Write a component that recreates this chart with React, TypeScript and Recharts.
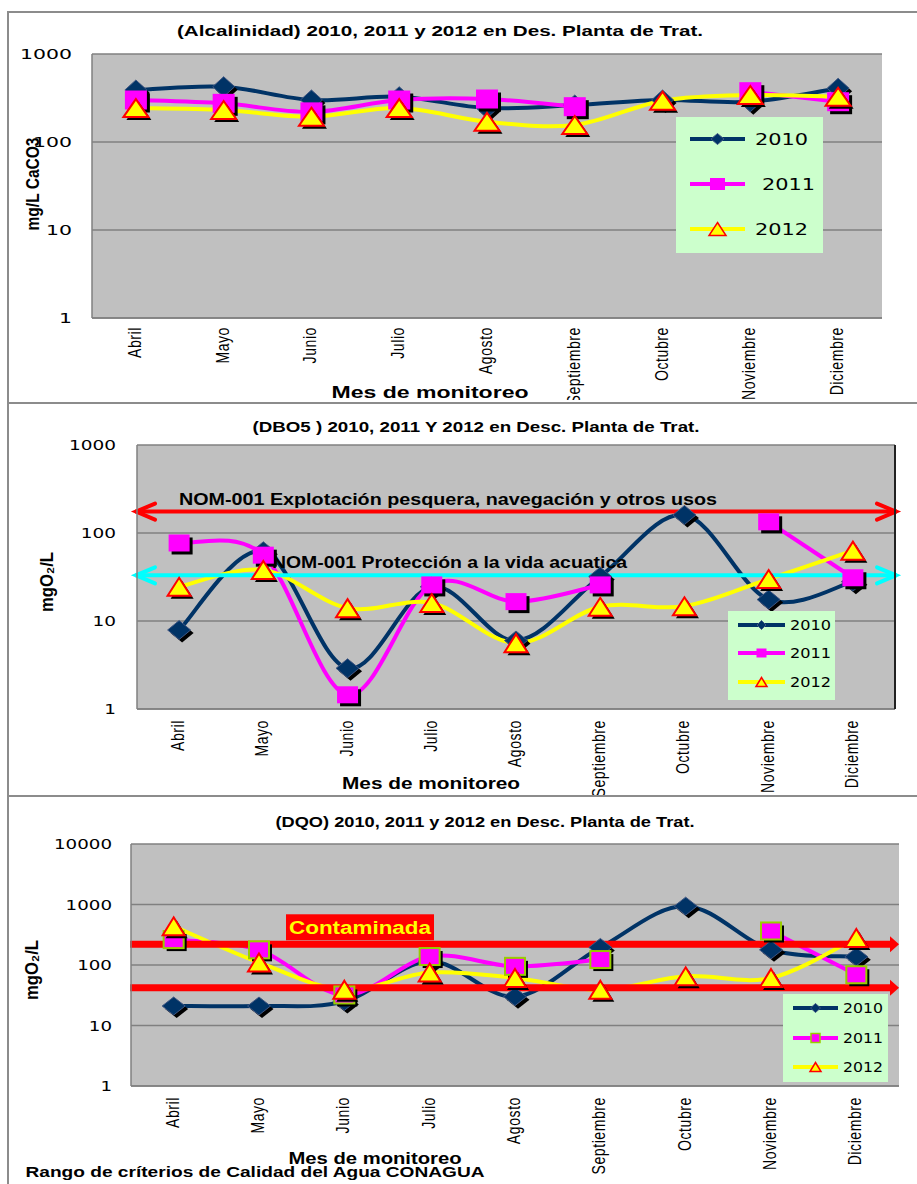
import React from "react";
import { CartesianGrid, Legend, Line, LineChart, ReferenceLine, XAxis, YAxis } from "recharts";

const meses = ["Abril", "Mayo", "Junio", "Julio", "Agosto", "Septiembre", "Octubre", "Noviembre", "Diciembre"];

// Alcalinidad, mg/L CaCO3
const alc2010 = [390, 425, 300, 327, 243, 263, 300, 287, 408];
const alc2011 = [300, 275, 220, 300, 308, 252, null, 373, 287];
const alc2012 = [243, 231, 194, 243, 170, 156, 295, 342, 327];
const alcTicks = [1, 10, 100, 1000];

// DBO5, mgO2/L
const dbo2010 = [7.9, 62, 2.9, 24.5, 6, 32, 160, 17.5, 28];
const dbo2011 = [77, 56, 1.45, 25.7, 16.6, 25.7, null, 134, 31];
const dbo2012 = [24.5, 38, 14, 16, 5.6, 14.5, 14.7, 30, 63];
const dboTicks = [1, 10, 100, 1000];
const nomPesquera = 175;
const nomVidaAcuatica = 33;

// DQO, mgO2/L
const dqo2010 = [21, 21, 25, 115, 30, 195, 940, 178, 137];
const dqo2011 = [263, 178, 32, 138, 95, 123, null, 365, 69];
const dqo2012 = [436, 110, 39, 75, 61, 39, 65, 61, 280];
const dqoTicks = [1, 10, 100, 1000, 10000];
const dqoAlto = 220;
const dqoBajo = 42;

const NAVY = "#003366";
const MAGENTA = "#FF00FF";
const YELLOW = "#FFFF00";
const RED = "#FF0000";
const CYAN = "#00FFFF";
const GRID = "#808080";
const FRAME = "2px solid #8c8c8c";

const toRows = (a: any[], b: any[], c: any[]) =>
  meses.map((mes, i) => ({ mes, y2010: a[i], y2011: b[i], y2012: c[i] }));

// excel-like smoothed line (catmull-rom as bezier)
function smoothCurve(context: any) {
  let pts: number[][] = [];
  return {
    areaStart() {},
    areaEnd() {},
    lineStart() {
      pts = [];
    },
    point(x: number, y: number) {
      pts.push([+x, +y]);
    },
    lineEnd() {
      if (!pts.length) return;
      context.moveTo(pts[0][0], pts[0][1]);
      if (pts.length === 1) context.lineTo(pts[0][0], pts[0][1]);
      for (let i = 0; i < pts.length - 1; i++) {
        const p0 = pts[i - 1] || pts[i];
        const p1 = pts[i];
        const p2 = pts[i + 1];
        const p3 = pts[i + 2] || p2;
        context.bezierCurveTo(
          p1[0] + (p2[0] - p0[0]) / 6,
          p1[1] + (p2[1] - p0[1]) / 6,
          p2[0] - (p3[0] - p1[0]) / 6,
          p2[1] - (p3[1] - p1[1]) / 6,
          p2[0],
          p2[1]
        );
      }
    },
  };
}

function shape(kind: string, cx: number, cy: number, w: number, h: number, fill: string, stroke: string, sw: number) {
  if (kind === "diamond")
    return (
      <polygon
        points={`${cx},${cy - h / 2} ${cx + w / 2},${cy} ${cx},${cy + h / 2} ${cx - w / 2},${cy}`}
        fill={fill}
        stroke={stroke}
        strokeWidth={sw}
      />
    );
  if (kind === "square")
    return <rect x={cx - w / 2} y={cy - h / 2} width={w} height={h} fill={fill} stroke={stroke} strokeWidth={sw} />;
  return (
    <polygon
      points={`${cx},${cy - h / 2} ${cx + w / 2},${cy + h / 2} ${cx - w / 2},${cy + h / 2}`}
      fill={fill}
      stroke={stroke}
      strokeWidth={sw}
      strokeLinejoin="miter"
    />
  );
}

const series = [
  { key: "y2010", name: "2010", color: NAVY, kind: "diamond", fill: NAVY, stroke: "#3f5683", sw: 1 },
  { key: "y2011", name: "2011", color: MAGENTA, kind: "square", fill: MAGENTA, stroke: MAGENTA, sw: 0 },
  { key: "y2012", name: "2012", color: YELLOW, kind: "triangle", fill: YELLOW, stroke: RED, sw: 2 },
];

const dotFor = (s: any, w: number, h: number, stroke: string, sw: number) => (p: any) => {
  if (p.value == null || p.cx == null || p.cy == null) return <g key={`e${p.index}`} />;
  return (
    <g key={`d${p.index}`}>
      {shape(s.kind, p.cx + 3, p.cy + 3, w, h, "#000", "none", 0)}
      {shape(s.kind, p.cx, p.cy, w, h, s.fill, stroke, sw)}
    </g>
  );
};

function legendFor(box: any) {
  return () => (
    <svg width={box.w} height={box.h} style={{ display: "block" }}>
      <rect width={box.w} height={box.h} fill="#CCFFCC" />
      {series.map((s, i) => {
        const y = box.rows[i];
        const m = box.marks[i];
        const stroke = s.kind === "square" && box.sqStroke ? box.sqStroke : s.stroke;
        const sw = s.kind === "square" && box.sqStroke ? 1.5 : s.kind === "triangle" ? 1.5 : s.sw;
        return (
          <g key={s.key}>
            <line x1={box.lx1} y1={y} x2={box.lx2} y2={y} stroke={s.color} strokeWidth={4} />
            {shape(s.kind, (box.lx1 + box.lx2) / 2, y, m[0], m[1], s.fill, stroke, sw)}
            <text
              x={box.tx + (i === 1 ? box.shift1 : 0)}
              y={y}
              dominantBaseline="central"
              fontFamily="DejaVu Sans"
              fontSize={box.fs}
              textLength={box.tl}
              lengthAdjust="spacingAndGlyphs"
            >
              {s.name}
            </text>
          </g>
        );
      })}
    </svg>
  );
}

const chevronLine = (color: string, label: string, dx: number, dy: number, len: number) => (p: any) => {
  const a = p.x1 - 2;
  const b = p.x2 + 2;
  const y = p.y1;
  return (
    <g>
      <line x1={a} y1={y} x2={b} y2={y} stroke={color} strokeWidth={4} />
      <polyline points={`${a + 20},${y - 8} ${a + 1},${y} ${a + 20},${y + 8}`} fill="none" stroke={color} strokeWidth={4} strokeLinecap="round" />
      <polyline points={`${b - 20},${y - 8} ${b - 1},${y} ${b - 20},${y + 8}`} fill="none" stroke={color} strokeWidth={4} strokeLinecap="round" />
      <text
        x={p.x1 + dx}
        y={y - dy}
        dominantBaseline="central"
        fontFamily="Liberation Sans"
        fontWeight="bold"
        fontSize={16}
        textLength={len}
        lengthAdjust="spacingAndGlyphs"
      >
        {label}
      </text>
    </g>
  );
};

const arrowBar = (withLabel: boolean) => (p: any) => {
  const y = p.y1;
  return (
    <g>
      <line x1={p.x1 - 1} y1={y} x2={p.x2 - 6} y2={y} stroke={RED} strokeWidth={7} />
      <polygon points={`${p.x2 - 9},${y - 8} ${p.x2},${y} ${p.x2 - 9},${y + 8}`} fill={RED} />
      {withLabel && (
        <g>
          <rect x={p.x1 + 155} y={y - 30} width={148} height={26} fill={RED} />
          <text
            x={p.x1 + 229}
            y={y - 16}
            textAnchor="middle"
            dominantBaseline="central"
            fontFamily="Liberation Sans"
            fontWeight="bold"
            fontSize={18}
            fill={YELLOW}
            textLength={142}
            lengthAdjust="spacingAndGlyphs"
          >
            Contaminada
          </text>
        </g>
      )}
    </g>
  );
};

const panels = [
  {
    id: "alc",
    chartTop: 0,
    height: 400,
    margin: { top: 54, right: 35, bottom: 22, left: 42 },
    rightAxis: 0,
    data: toRows(alc2010, alc2011, alc2012),
    ticks: alcTicks,
    tickGap: 20,
    perChar: 13,
    monthGap: 9,
    marks: [
      [22, 20],
      [22, 19],
      [25, 18],
    ],
    sqStroke: "",
    legend: {
      x: 676, y: 117, w: 147, h: 136, lx1: 14, lx2: 69, rows: [22, 67, 112], tx: 79, tl: 53, fs: 16, shift1: 7,
      marks: [[13, 11], [15, 12], [17, 13]], sqStroke: "",
    },
    refs: [],
  },
  {
    id: "dbo",
    chartTop: 400,
    height: 400,
    margin: { top: 45, right: 20, bottom: 31, left: 87 },
    rightAxis: 2,
    data: toRows(dbo2010, dbo2011, dbo2012),
    ticks: dboTicks,
    tickGap: 21,
    perChar: 11.75,
    monthGap: 11,
    marks: [
      [23, 19],
      [21, 17],
      [23, 18],
    ],
    sqStroke: "",
    legend: {
      x: 728, y: 211, w: 107, h: 89, lx1: 10, lx2: 57, rows: [14, 42, 71], tx: 62, tl: 41, fs: 14, shift1: 0,
      marks: [[9, 9], [10, 9], [11, 9]], sqStroke: "",
    },
    refs: [
      { y: nomPesquera, shape: chevronLine(RED, "NOM-001 Explotación pesquera, navegación y otros usos", 42, 12, 538) },
      { y: nomVidaAcuatica, shape: chevronLine(CYAN, "NOM-001 Protección a la vida acuatica", 135, 13, 355) },
    ],
  },
  {
    id: "dqo",
    chartTop: 795,
    height: 389,
    margin: { top: 49, right: 18, bottom: 38, left: 81 },
    rightAxis: 0,
    data: toRows(dqo2010, dqo2011, dqo2012),
    ticks: dqoTicks,
    tickGap: 19,
    perChar: 11.6,
    monthGap: 11,
    marks: [
      [23, 18],
      [20, 17],
      [22, 18],
    ],
    sqStroke: "#99CC00",
    legend: {
      x: 783, y: 199, w: 105, h: 88, lx1: 10, lx2: 55, rows: [14, 44, 73], tx: 60, tl: 40, fs: 14, shift1: 0,
      marks: [[10, 9], [9, 9], [11, 9]], sqStroke: "#99CC00",
    },
    refs: [
      { y: dqoAlto, shape: arrowBar(true) },
      { y: dqoBajo, shape: arrowBar(false) },
    ],
  },
];

function Chart({ cfg }: { cfg: any }) {
  const yw = 50;
  const plotW = 917 - cfg.margin.left - cfg.margin.right - yw - cfg.rightAxis;
  const pad = plotW / 18;
  const domain = [cfg.ticks[0], cfg.ticks[cfg.ticks.length - 1]];
  return (
    <LineChart width={917} height={cfg.height} data={cfg.data} margin={cfg.margin}>
      <CartesianGrid vertical={false} stroke={GRID} strokeWidth={1.5} fill="#C0C0C0" fillOpacity={1} />
      <XAxis
        dataKey="mes"
        height={60}
        interval={0}
        padding={{ left: pad, right: pad }}
        tickLine={false}
        tickSize={0}
        tickMargin={0}
        axisLine={{ stroke: GRID, strokeWidth: 1.5 }}
        tick={(p: any) => (
          <text
            transform={`translate(${p.x + 5},${p.y + cfg.monthGap}) scale(1.3,1) rotate(-90)`}
            textAnchor="end"
            fontFamily="Liberation Sans"
            fontSize={14}
            letterSpacing={0.6}
            fill="#000"
          >
            {p.payload.value}
          </text>
        )}
      />
      <YAxis
        scale="log"
        type="number"
        domain={domain}
        ticks={cfg.ticks}
        interval={0}
        allowDataOverflow
        width={yw}
        tickLine={false}
        tickSize={0}
        tickMargin={0}
        axisLine={{ stroke: GRID, strokeWidth: 1.5 }}
        tick={(p: any) => (
          <text
            x={p.x - cfg.tickGap}
            y={p.y}
            textAnchor="end"
            dominantBaseline="central"
            fontFamily="DejaVu Sans"
            fontSize={14}
            textLength={String(p.payload.value).length * cfg.perChar}
            lengthAdjust="spacingAndGlyphs"
            fill="#000"
          >
            {p.payload.value}
          </text>
        )}
      />
      {cfg.rightAxis > 0 && (
        <YAxis yAxisId="r" orientation="right" width={cfg.rightAxis} tick={false} tickLine={false} axisLine={{ stroke: "#222", strokeWidth: 2 }} />
      )}
      {series.map((s, i) => (
        <Line
          key={s.key}
          dataKey={s.key}
          name={s.name}
          type={smoothCurve as any}
          stroke={s.color}
          strokeWidth={4}
          connectNulls={false}
          dot={dotFor(
            s,
            cfg.marks[i][0],
            cfg.marks[i][1],
            s.kind === "square" && cfg.sqStroke ? cfg.sqStroke : s.stroke,
            s.kind === "square" && cfg.sqStroke ? 2 : s.sw
          )}
          activeDot={false}
          isAnimationActive={false}
        />
      ))}
      {cfg.refs.map((r: any, i: number) => (
        <ReferenceLine key={i} y={r.y} shape={r.shape} ifOverflow="visible" />
      ))}
      <Legend
        layout="vertical"
        align="center"
        verticalAlign="middle"
        content={legendFor(cfg.legend)}
        wrapperStyle={{ position: "absolute", left: cfg.legend.x, top: cfg.legend.y, width: cfg.legend.w, height: cfg.legend.h }}
      />
    </LineChart>
  );
}

function T({ x, y, len, size, children, rotate, sx, anchor }: any) {
  const tf = rotate ? `translate(${x},${y}) scale(${sx || 1.2},1) rotate(-90)` : `translate(${x},${y})`;
  return (
    <text
      transform={tf}
      textAnchor={anchor || "middle"}
      dominantBaseline="central"
      fontFamily="Liberation Sans"
      fontWeight="bold"
      fontSize={size}
      textLength={len}
      lengthAdjust="spacingAndGlyphs"
      fill="#000"
    >
      {children}
    </text>
  );
}

export default function App() {
  const frames = [
    { top: 11, height: 393, style: { borderTop: FRAME, borderLeft: FRAME, borderBottom: FRAME }, bt: 2 },
    { top: 404, height: 393, style: { borderLeft: FRAME, borderBottom: FRAME }, bt: 0 },
    { top: 797, height: 387, style: { borderLeft: FRAME }, bt: 0 },
  ];
  return (
    <div style={{ position: "absolute", left: 0, top: 0, width: 917, height: 1184, overflow: "hidden", background: "#fff" }}>
      {panels.map((cfg, i) => {
        const f = frames[i];
        return (
          <div
            key={cfg.id}
            style={{ position: "absolute", left: 7, top: f.top, width: 1000, height: f.height, boxSizing: "border-box", overflow: "hidden", ...f.style }}
          >
            <div style={{ position: "absolute", left: -9, top: cfg.chartTop - f.top - f.bt }}>
              <Chart cfg={cfg} />
            </div>
          </div>
        );
      })}
      <svg width={917} height={1184} style={{ position: "absolute", left: 0, top: 0, pointerEvents: "none" }}>
        <T x={440} y={31} len={526} size={14}>(Alcalinidad) 2010, 2011 y 2012 en Des. Planta de Trat.</T>
        <T x={33} y={184} len={93} size={15} rotate>mg/L CaCO3</T>
        <T x={430} y={392} len={197} size={16}>Mes de monitoreo</T>

        <T x={476} y={427} len={447} size={14}>(DBO5 ) 2010, 2011 Y 2012  en Desc. Planta de Trat.</T>
        <T x={47} y={582} len={60} size={15} rotate>mgO₂/L</T>
        <T x={431} y={783} len={178} size={16}>Mes de monitoreo</T>

        <T x={485} y={822} len={419} size={14}>(DQO) 2010, 2011 y 2012 en Desc. Planta de Trat.</T>
        <T x={32} y={970} len={60} size={15} rotate>mgO₂/L</T>
        <T x={375} y={1158} len={173} size={16}>Mes de monitoreo</T>
        <T x={255} y={1171} len={459} size={15}>Rango de críterios de Calidad del Agua CONAGUA</T>
      </svg>
    </div>
  );
}
